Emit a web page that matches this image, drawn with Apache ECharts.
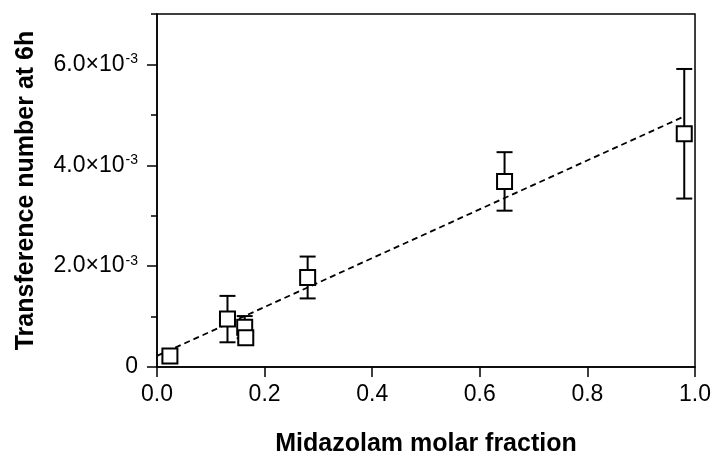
<!DOCTYPE html>
<html>
<head>
<meta charset="utf-8">
<script src="https://cdn.jsdelivr.net/npm/echarts@6/dist/echarts.min.js"></script>
<style>
  html, body { margin: 0; padding: 0; background: #fff; }
  #chart { width: 714px; height: 462px; }
</style>
</head>
<body>
<div id="chart"></div>
<script>
// measured points (x = molar fraction, y = transference number)
var xValues = [0.024, 0.131, 0.163, 0.165, 0.280, 0.646, 0.980]
var yValues = [0.22e-3, 0.95e-3, 0.79e-3, 0.58e-3, 1.775e-3, 3.68e-3, 4.625e-3]
var yErrors = [0.08e-3, 0.46e-3, 0.22e-3, 0.10e-3, 0.415e-3, 0.58e-3, 1.285e-3]
// linear fit (dashed)
var fitX = [0, 0.976]
var fitY = [0.22e-3, 4.95e-3]
// axis ticks
var xTicks = [0, 0.2, 0.4, 0.6, 0.8, 1.0]
var yMajorTicks = [0, 2e-3, 4e-3, 6e-3]

var FONT = "'Liberation Sans', Arial, sans-serif"

var chart = echarts.init(document.getElementById('chart'))

var points = xValues.map(function (x, i) { return [x, yValues[i]] })
var bars = xValues.map(function (x, i) { return [x, yValues[i] - yErrors[i], yValues[i] + yErrors[i]] })
var fitLine = fitX.map(function (x, i) { return [x, fitY[i]] })

chart.setOption({
  animation: false,
  backgroundColor: '#fff',
  grid: {
    left: 157,
    right: 17,
    top: 14,
    bottom: 89,
    show: true,
    borderColor: '#000',
    borderWidth: 1.5
  },
  xAxis: {
    type: 'value',
    min: 0,
    max: 1,
    interval: 0.2,
    name: 'Midazolam molar fraction',
    nameLocation: 'middle',
    nameGap: 65,
    nameTextStyle: { fontFamily: FONT, fontSize: 25, fontWeight: 'bold', color: '#000' },
    splitLine: { show: false },
    axisLine: { lineStyle: { color: '#000', width: 1.5 } },
    axisTick: { length: 10, lineStyle: { color: '#000', width: 1.5 } },
    axisLabel: {
      margin: 16,
      fontFamily: FONT,
      fontSize: 23,
      color: '#000',
      formatter: function (v) { return v.toFixed(1) }
    }
  },
  yAxis: [{
    type: 'value',
    min: 0,
    max: 7e-3,
    interval: 1e-3,
    name: 'Transference number at 6h',
    nameLocation: 'middle',
    nameGap: 118,
    nameTextStyle: { fontFamily: FONT, fontSize: 25, fontWeight: 'bold', color: '#000' },
    splitLine: { show: false },
    axisLine: { lineStyle: { color: '#000', width: 1.5 } },
    axisTick: { length: 6, lineStyle: { color: '#000', width: 1.5 } },
    axisLabel: {
      margin: 19,
      color: '#000',
      formatter: function (v) {
        var k = Math.round(v * 1e3)
        if (k === 0) return '{m|0}'
        if (k % 2 !== 0 || k > 6) return ''
        return '{m|' + k.toFixed(1) + '×10}{s|-3}'
      },
      rich: {
        m: { fontFamily: FONT, fontSize: 23, color: '#000', lineHeight: 24 },
        s: { fontFamily: FONT, fontSize: 14, color: '#000', verticalAlign: 'top', padding: [0, 0, 0, 1] }
      }
    }
  }, {
    // longer ticks for the labelled values
    type: 'value',
    position: 'left',
    min: 0,
    max: 7e-3,
    interval: 1e-3,
    splitLine: { show: false },
    axisLine: { show: false },
    axisLabel: { show: false },
    axisTick: { length: 10, customValues: yMajorTicks, lineStyle: { color: '#000', width: 1.5 } }
  }],
  series: [
    {
      name: 'fit',
      type: 'line',
      data: fitLine,
      showSymbol: false,
      symbol: 'none',
      lineStyle: { color: '#000', width: 1.8, type: [6, 4] },
      z: 2
    },
    {
      name: 'error',
      type: 'custom',
      data: bars,
      z: 3,
      renderItem: function (params, api) {
        var x = api.value(0)
        var lo = api.coord([x, api.value(1)])
        var hi = api.coord([x, api.value(2)])
        var hw = 8
        var st = { stroke: '#000', lineWidth: 2 }
        return {
          type: 'group',
          children: [
            { type: 'line', shape: { x1: hi[0], y1: hi[1], x2: lo[0], y2: lo[1] }, style: st },
            { type: 'line', shape: { x1: hi[0] - hw, y1: hi[1], x2: hi[0] + hw, y2: hi[1] }, style: st },
            { type: 'line', shape: { x1: lo[0] - hw, y1: lo[1], x2: lo[0] + hw, y2: lo[1] }, style: st }
          ]
        }
      }
    },
    {
      name: 'data',
      type: 'scatter',
      data: points,
      symbol: 'rect',
      symbolSize: 15,
      itemStyle: { color: '#fff', borderColor: '#000', borderWidth: 2, opacity: 1 },
      z: 4
    }
  ]
})
</script>
</body>
</html>
